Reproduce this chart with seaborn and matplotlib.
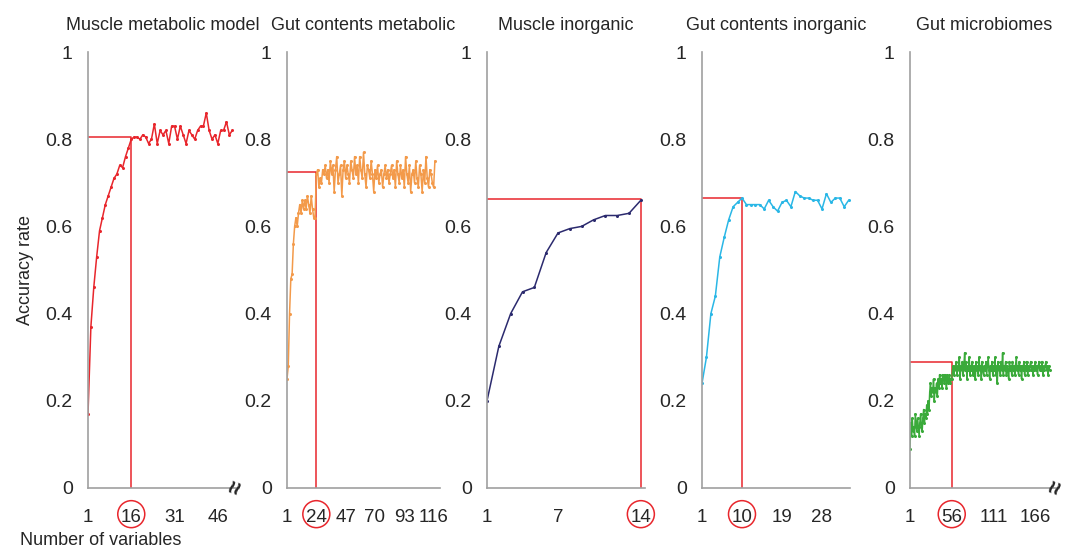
import matplotlib
matplotlib.use('Agg')
import matplotlib.pyplot as plt
import seaborn as sns
import pandas as pd
from matplotlib.patches import Ellipse

sns.set_style('white')
plt.rcParams['font.family'] = ['Liberation Sans', 'DejaVu Sans']

titles = ['Muscle metabolic model', 'Gut contents metabolic', 'Muscle inorganic',
          'Gut contents inorganic', 'Gut microbiomes']
colors = ['#e8262c', '#f39a4a', '#2b2a6e', '#2ab7e6', '#3aaa3a']

muscle_metabolic = [0.17, 0.37, 0.46, 0.53, 0.59, 0.62, 0.65, 0.67, 0.69, 0.71, 0.72, 0.74, 0.735,
                    0.76, 0.78, 0.80, 0.805, 0.805, 0.80, 0.81, 0.805, 0.79, 0.80, 0.835, 0.79, 0.82,
                    0.81, 0.82, 0.79, 0.83, 0.83, 0.80, 0.83, 0.81, 0.79, 0.82, 0.81, 0.80, 0.82, 0.83,
                    0.83, 0.86, 0.82, 0.80, 0.81, 0.79, 0.82, 0.82, 0.84, 0.81, 0.82]
gut_metabolic = [0.25, 0.28, 0.40, 0.48, 0.49, 0.56, 0.60, 0.62, 0.60, 0.63, 0.65, 0.63, 0.66, 0.64,
                 0.66, 0.64, 0.67, 0.65, 0.63, 0.67, 0.64, 0.62, 0.62, 0.72,
                 0.73, 0.69, 0.71, 0.70, 0.73, 0.72, 0.74, 0.71, 0.73, 0.70, 0.75, 0.72, 0.74, 0.68,
                 0.73, 0.76, 0.70, 0.72, 0.74, 0.67, 0.73, 0.75, 0.71, 0.74, 0.72, 0.70, 0.75, 0.73,
                 0.71, 0.76, 0.72, 0.74, 0.70, 0.76, 0.73, 0.71, 0.77, 0.72, 0.69, 0.74, 0.73, 0.71,
                 0.75, 0.72, 0.68, 0.73, 0.71, 0.74, 0.70, 0.72, 0.73, 0.69, 0.72, 0.74, 0.71, 0.73,
                 0.70, 0.72, 0.74, 0.71, 0.73, 0.69, 0.75, 0.72, 0.70, 0.74, 0.71, 0.73, 0.69, 0.76,
                 0.72, 0.70, 0.74, 0.68, 0.72, 0.73, 0.70, 0.75, 0.71, 0.69, 0.74, 0.72, 0.68, 0.73,
                 0.70, 0.76, 0.71, 0.69, 0.73, 0.72, 0.70, 0.69, 0.75]
muscle_inorganic = [0.20, 0.325, 0.40, 0.45, 0.46, 0.54, 0.585, 0.595, 0.60, 0.615, 0.625, 0.625,
                    0.63, 0.66]
gut_inorganic = [0.24, 0.30, 0.40, 0.44, 0.53, 0.575, 0.615, 0.645, 0.655, 0.665, 0.65, 0.65, 0.65,
                 0.65, 0.64, 0.66, 0.645, 0.635, 0.655, 0.66, 0.645, 0.68, 0.67, 0.665, 0.665, 0.66,
                 0.66, 0.64, 0.675, 0.655, 0.665, 0.665, 0.645, 0.66]
gut_microbiome = [0.09, 0.15, 0.12, 0.16, 0.13, 0.14, 0.12, 0.17, 0.15, 0.13, 0.16, 0.14, 0.12, 0.15,
                  0.17, 0.14, 0.13, 0.16, 0.18, 0.15, 0.17, 0.16, 0.19, 0.17, 0.20, 0.18, 0.22, 0.24,
                  0.21, 0.23, 0.22, 0.25, 0.20, 0.23, 0.22, 0.24, 0.21, 0.25, 0.23, 0.26, 0.24, 0.25,
                  0.23, 0.26, 0.25, 0.24, 0.26, 0.25, 0.23, 0.26, 0.24, 0.25, 0.26, 0.24, 0.25, 0.25,
                  0.27, 0.28, 0.26, 0.28, 0.27, 0.29, 0.26, 0.28, 0.27, 0.30, 0.25, 0.28, 0.27, 0.29,
                  0.26, 0.28, 0.31, 0.27, 0.29, 0.25, 0.28, 0.27, 0.30, 0.26, 0.28, 0.27, 0.29, 0.26,
                  0.28, 0.27, 0.25, 0.29, 0.27, 0.28, 0.26, 0.30, 0.27, 0.28, 0.25, 0.29, 0.27, 0.26,
                  0.28, 0.27, 0.29, 0.26, 0.28, 0.30, 0.27, 0.25, 0.28, 0.27, 0.29, 0.26, 0.28, 0.27,
                  0.30, 0.26, 0.28, 0.24, 0.29, 0.27, 0.28, 0.26, 0.29, 0.27, 0.31, 0.26, 0.28, 0.27,
                  0.29, 0.26, 0.28, 0.27, 0.25, 0.29, 0.27, 0.28, 0.26, 0.29, 0.27, 0.28, 0.26, 0.28,
                  0.30, 0.27, 0.28, 0.26, 0.29, 0.27, 0.28, 0.25, 0.28, 0.27, 0.29, 0.26, 0.28, 0.27,
                  0.29, 0.26, 0.28, 0.27, 0.28, 0.29, 0.27, 0.28, 0.26, 0.28, 0.27, 0.29, 0.27, 0.28,
                  0.26, 0.28, 0.29, 0.27, 0.28, 0.27, 0.29, 0.26, 0.28, 0.27, 0.28, 0.29, 0.27, 0.28,
                  0.26, 0.28, 0.27]

series = [muscle_metabolic, gut_metabolic, muscle_inorganic, gut_inorganic, gut_microbiome]
best_n = [16, 24, 14, 10, 56]
best_acc = [0.805, 0.725, 0.663, 0.665, 0.29]
xticks = [[1, 16, 31, 46], [1, 24, 47, 70, 93, 116], [1, 7, 14], [1, 10, 19, 28], [1, 56, 111, 166]]
xlims = [(1, 53), (1, 121), (1, 14.35), (1, 34.3), (1, 196)]
left_px = [88, 287, 487, 702, 910]
width_px = [150, 153, 158, 148, 148]

W, H = 1070, 552
fig = plt.figure(figsize=(W / 100, H / 100), dpi=100)
for i in range(5):
    ax = fig.add_axes([left_px[i] / W, 1 - 488 / H, width_px[i] / W, (488 - 52) / H])
    df = pd.DataFrame({'n': range(1, len(series[i]) + 1), 'acc': series[i]})
    ax.plot([0, best_n[i], best_n[i]], [best_acc[i], best_acc[i], 0], color='#e8262c', lw=1.1,
            zorder=1)
    sns.lineplot(data=df, x='n', y='acc', ax=ax, color=colors[i], lw=1.1, marker='o',
                 markersize=2.2, markeredgewidth=0, zorder=2)
    ax.set_xlim(xlims[i])
    ax.set_ylim(0, 1)
    ax.set_yticks([0, 0.2, 0.4, 0.6, 0.8, 1])
    ax.set_yticklabels(['0', '0.2', '0.4', '0.6', '0.8', '1'])
    ax.set_xticks(xticks[i])
    ax.set_xticklabels([str(t) for t in xticks[i]])
    ax.set_xlabel('')
    ax.set_ylabel('')
    for s in ['top', 'right']:
        ax.spines[s].set_visible(False)
    for s in ['left', 'bottom']:
        ax.spines[s].set_color('#a0a0a0')
        ax.spines[s].set_linewidth(1.2)
    ax.tick_params(axis='y', direction='out', length=5, color='#a0a0a0', labelsize=14, pad=6)
    ax.tick_params(axis='x', direction='in', length=5, color='#a0a0a0', labelsize=13.5, pad=15)
    ax.set_title(titles[i], fontsize=13, pad=16)
    # circle around the selected number of variables
    rng = xlims[i][1] - xlims[i][0]
    ax.add_patch(Ellipse((best_n[i], -0.06), width=rng * 27 / width_px[i],
                         height=27 / 436, transform=ax.transData, fill=False,
                         edgecolor='#e8262c', lw=1.1, clip_on=False))
    if i in (0, 4):
        ax.text(0.99, 0.0, '\u2248', transform=ax.transAxes, fontsize=17, rotation=70,
                ha='center', va='center', fontweight='bold')
    if i == 0:
        ax.set_ylabel('Accuracy rate', fontsize=13, labelpad=8)
        ax.text(-0.45, -0.12, 'Number of variables', transform=ax.transAxes, fontsize=13,
                ha='left', va='center')

fig.savefig('out.png', dpi=100)
